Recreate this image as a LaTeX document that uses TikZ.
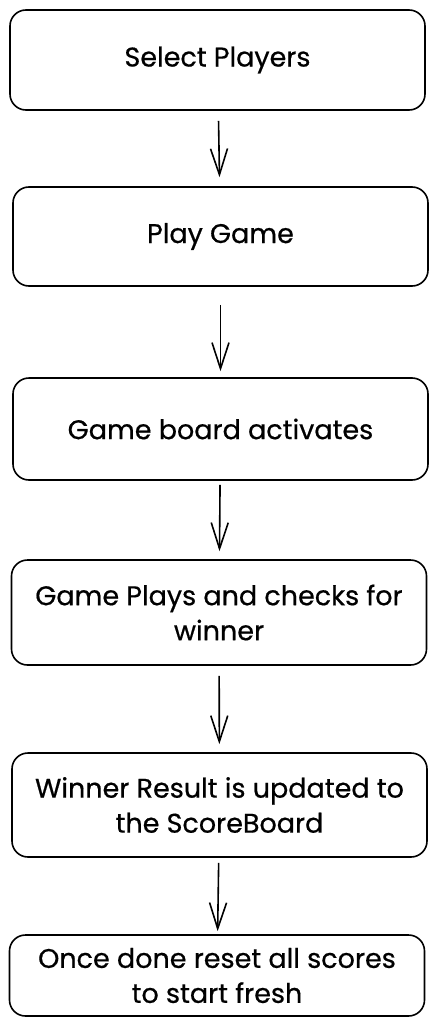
\documentclass[tikz,border=0pt]{standalone}
\usepackage{fontspec}
\setmainfont[FakeBold=0.6]{Poppins}
\usetikzlibrary{arrows.meta}
\tikzset{
  stepbox/.style={
    draw, line width=1.6pt, rounded corners=16pt,
    minimum width=415pt, align=center,
    font=\fontsize{27}{35}\selectfont
  },
  flow/.style={
    line width=1.6pt,
    -{Straight Barb[length=26pt,width=17pt,line width=1.6pt]}
  }
}

\begin{document}
\begin{tikzpicture}[x=1pt,y=-1pt]
\useasboundingbox (0,0) rectangle (438,1025);
% the six steps, top to bottom
\node[stepbox,minimum height=100pt] (select) at (217.5,60) {Select Players};
\node[stepbox,minimum height=99pt]  (play)   at (220.5,236.5) {Play Game};
\node[stepbox,minimum height=102pt] (board)  at (220.5,429) {Game board activates};
\node[stepbox,minimum height=105pt] (checks) at (219,612.5) {Game Plays and checks for\\winner};
\node[stepbox,minimum height=104pt] (result) at (219.5,805) {Winner Result is updated to\\the ScoreBoard};
\node[stepbox,minimum height=81pt]  (reset)  at (217,975.5) {Once done reset all scores\\to start fresh};
% connectors
\draw[flow,shorten <=10pt,shorten >=9pt] (select) -- (play);
\draw[flow,shorten <=18pt,shorten >=6pt] (play) -- (board);
\draw[flow,shorten <=4pt,shorten >=8pt]  (board) -- (checks);
\draw[flow,shorten <=10pt,shorten >=8pt] (checks) -- (result);
\draw[flow,shorten <=5pt,shorten >=3pt]  (result) -- (reset);
\end{tikzpicture}
\end{document}
